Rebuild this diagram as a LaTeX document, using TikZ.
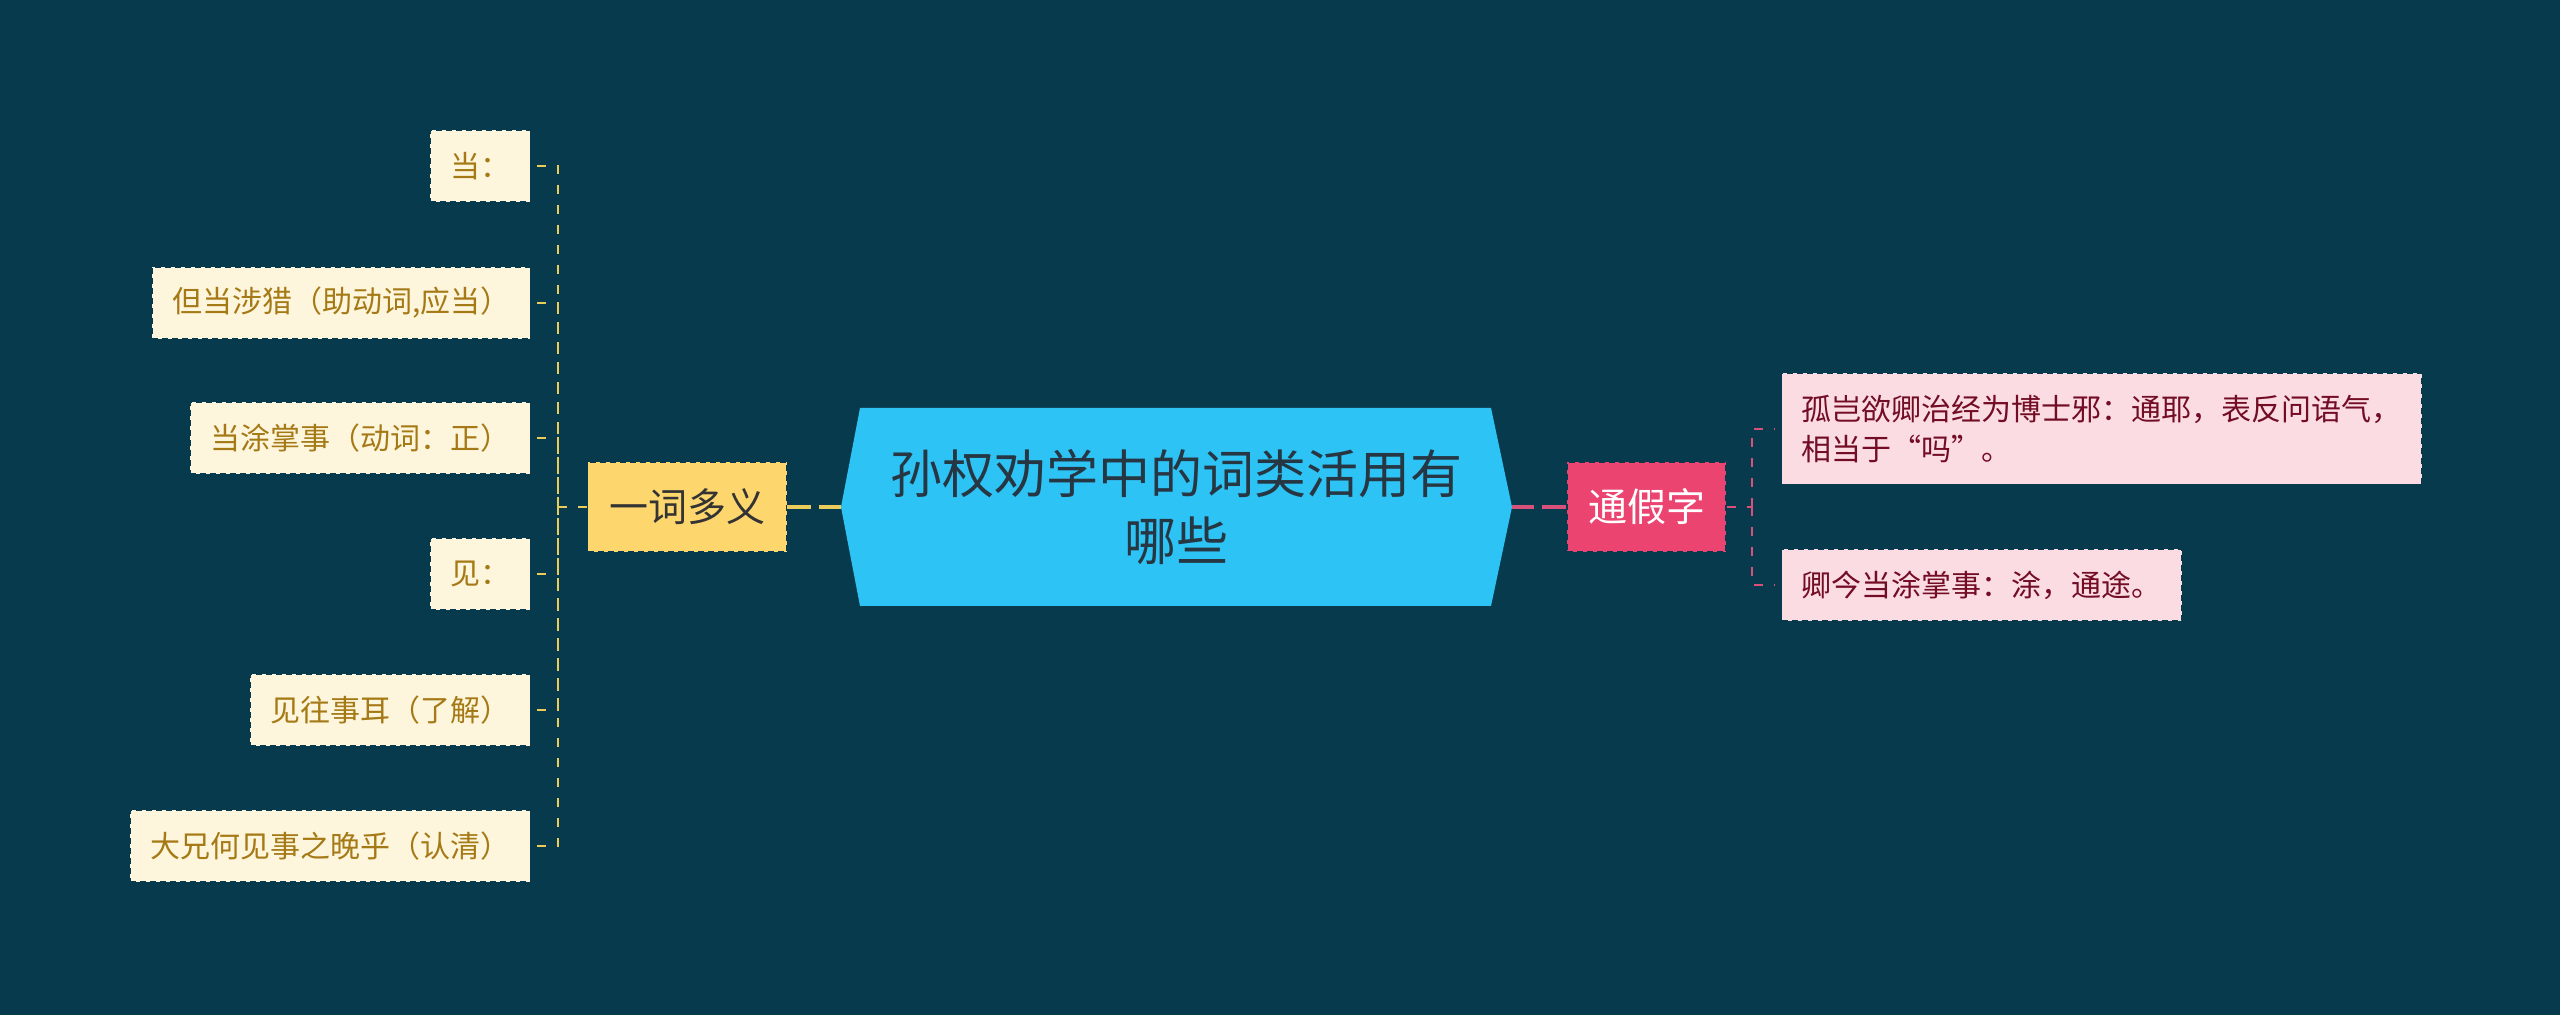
\documentclass[tikz,border=0pt]{standalone}
\usepackage{fontspec}
\setmainfont{Noto Sans CJK SC}
\usetikzlibrary{positioning}

\definecolor{bgcol}{HTML}{083A4E}
\definecolor{titlefill}{HTML}{2EC3F5}
\definecolor{titletext}{HTML}{263642}
\definecolor{yifill}{HTML}{FDD66E}
\definecolor{yiline}{HTML}{EBCB5A}
\definecolor{tongfill}{HTML}{EC4470}
\definecolor{tongline}{HTML}{D8517A}
\definecolor{creamfill}{HTML}{FEF6DC}
\definecolor{creamtext}{HTML}{A57A16}
\definecolor{rosefill}{HTML}{FBDCE2}
\definecolor{rosetext}{HTML}{730C25}

\begin{document}
\begin{tikzpicture}[x=0.5pt, y=-0.5pt,
  branchbox/.style={draw=bgcol, dash pattern=on 3pt off 2pt, line width=0.6pt,
    minimum height=45pt, inner sep=0pt, font=\fontsize{19.5}{24}\selectfont},
  leafbox/.style={draw=bgcol, dash pattern=on 3pt off 2pt, line width=0.6pt,
    minimum height=36pt, inner xsep=10pt, inner ysep=0pt, font=\fontsize{15}{20}\selectfont},
  lleaf/.style={leafbox, fill=creamfill, text=creamtext, anchor=east},
  rleaf/.style={leafbox, fill=rosefill, text=rosetext, anchor=west, align=left},
  ylink/.style={yiline, line width=1pt, dash pattern=on 4.5pt off 5.5pt},
  plink/.style={tongline, line width=1pt, dash pattern=on 4.5pt off 5.5pt}]
  \useasboundingbox[fill=bgcol] (0,0) rectangle (2560,1015);

  % centre topic
  \fill[titlefill] (841,507) -- (860,408) -- (1491,408) -- (1512,507) -- (1491,606) -- (860,606) -- cycle;
  \node[align=center, text=titletext, font=\fontsize{26}{33.5}\selectfont] (title) at (1176,507) {孙权劝学中的词类活用有\\哪些};
  \coordinate (titleW) at (841,507);
  \coordinate (titleE) at (1512,507);

  % main branches
  \node[branchbox, fill=yifill, text=black!80, minimum width=99.5pt] (yici) at (687,507) {一词多义};
  \node[branchbox, fill=tongfill, text=white, minimum width=79.5pt] (tongjia) at (1646.5,507) {通假字};
  \draw[yiline, line width=2pt, dash pattern=on 12pt off 4pt on 40pt off 4pt] (yici.east) -- (titleW);
  \draw[tongline, line width=2pt, dash pattern=on 12pt off 4pt on 40pt off 4pt] (tongjia.west) -- (titleE);

  % left leaves
  \node[lleaf] (dang) at (531,166) {当：};
  \node[lleaf] (danshe) at (531,303) {但当涉猎（助动词,应当）};
  \node[lleaf] (dangtu) at (531,438) {当涂掌事（动词：正）};
  \node[lleaf] (jian) at (531,574) {见：};
  \node[lleaf] (jianwang) at (531,710) {见往事耳（了解）};
  \node[lleaf] (daxiong) at (531,846) {大兄何见事之晚乎（认清）};
  \coordinate (lhub) at (558,507);
  \draw[ylink] (yici.west) -- (lhub);
  \foreach \leaf in {dang,danshe,dangtu,jian,jianwang,daxiong}
    \draw[ylink] ([xshift=3pt]\leaf.east) -| (lhub);

  % right leaves
  \node[rleaf, minimum height=55.5pt] (guqi) at (1781,429) {孤岂欲卿治经为博士邪：通耶，表反问语气，\\相当于“吗”。};
  \node[rleaf] (qingjin) at (1781,585) {卿今当涂掌事：涂，通途。};
  \coordinate (rhub) at (1752,507);
  \draw[plink] (tongjia.east) -- (rhub);
  \foreach \leaf in {guqi,qingjin}
    \draw[plink] (rhub) |- ([xshift=-3pt]\leaf.west);
\end{tikzpicture}
\end{document}
